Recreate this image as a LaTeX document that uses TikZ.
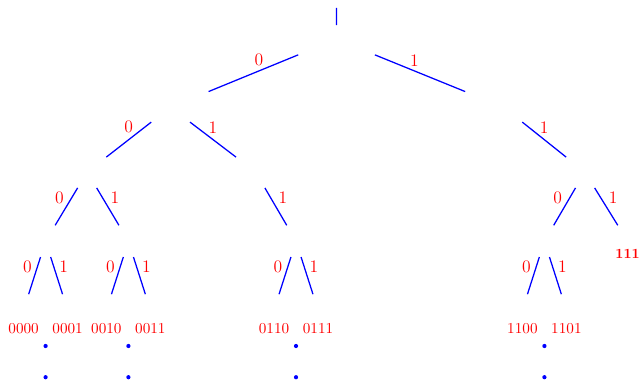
\documentclass[tikz,border=0pt]{standalone}
\usetikzlibrary{calc, positioning}

\begin{document}
\begin{tikzpicture}[
  branch/.style={draw=blue, line width=0.9pt},
  bit/.style={text=red, font=\fontsize{12.5}{14}\selectfont, inner sep=1.5pt},
  word/.style={text=red, font=\fontsize{10.8}{12}\selectfont},
  stub/.style={text=red, font=\fontsize{10}{12}\selectfont\bfseries},
  dot/.style={circle, fill=blue, inner sep=0pt, minimum size=3pt},
]
  \useasboundingbox (0,0) rectangle (15.975,-9.5);

  % ---- tree points, level by level ----
  \coordinate (top)  at (8.41,-0.20);
  \coordinate (r)    at (8.41,-0.98);
  \coordinate (n0)   at (4.26,-2.68);
  \coordinate (n1)   at (12.59,-2.68);
  \coordinate (n00)  at (2.18,-4.30);
  \coordinate (n01)  at (6.39,-4.30);
  \coordinate (n11)  at (14.62,-4.30);
  \coordinate (n000) at (1.14,-6.03);
  \coordinate (n001) at (3.21,-6.03);
  \coordinate (n011) at (7.40,-6.03);
  \coordinate (n110) at (13.61,-6.03);
  \coordinate (n111) at (15.69,-6.03);
  % leaves
  \coordinate (l0000) at (0.59,-7.75);
  \coordinate (l0001) at (1.69,-7.75);
  \coordinate (l0010) at (2.66,-7.75);
  \coordinate (l0011) at (3.76,-7.75);
  \coordinate (l0110) at (6.85,-7.75);
  \coordinate (l0111) at (7.95,-7.75);
  \coordinate (l1100) at (13.06,-7.75);
  \coordinate (l1101) at (14.16,-7.75);

  % ==== root stub ====
  \draw[branch] (top) -- ($(top)!0.548!(r)$);

  % ==== level 1 ====
  \draw[branch] ($(r)!.23!(n0)$) -- node[bit, above=3pt, xshift=4pt]  {0} ($(r)!.77!(n0)$);
  \draw[branch] ($(r)!.23!(n1)$) -- node[bit, above=3pt, xshift=-4pt] {1} ($(r)!.77!(n1)$);

  % ==== level 2 ====
  \draw[branch] ($(n0)!.23!(n00)$) -- node[bit, above=2.5pt] {0} ($(n0)!.77!(n00)$);
  \draw[branch] ($(n0)!.23!(n01)$) -- node[bit, above=2.5pt] {1} ($(n0)!.77!(n01)$);
  \draw[branch] ($(n1)!.23!(n11)$) -- node[bit, above=2.5pt] {1} ($(n1)!.77!(n11)$);

  % ==== level 3 ====
  \draw[branch] ($(n00)!.23!(n000)$) -- node[bit, above left]  {0} ($(n00)!.77!(n000)$);
  \draw[branch] ($(n00)!.23!(n001)$) -- node[bit, above right] {1} ($(n00)!.77!(n001)$);
  \draw[branch] ($(n01)!.23!(n011)$) -- node[bit, above right] {1} ($(n01)!.77!(n011)$);
  \draw[branch] ($(n11)!.23!(n110)$) -- node[bit, above left]  {0} ($(n11)!.77!(n110)$);
  \draw[branch] ($(n11)!.23!(n111)$) -- node[bit, above right] {1} ($(n11)!.77!(n111)$);

  % ==== level 4 ====
  \draw[branch] ($(n000)!.23!(l0000)$) -- node[bit, above left]  {0} ($(n000)!.77!(l0000)$);
  \draw[branch] ($(n000)!.23!(l0001)$) -- node[bit, above right] {1} ($(n000)!.77!(l0001)$);
  \draw[branch] ($(n001)!.23!(l0010)$) -- node[bit, above left]  {0} ($(n001)!.77!(l0010)$);
  \draw[branch] ($(n001)!.23!(l0011)$) -- node[bit, above right] {1} ($(n001)!.77!(l0011)$);
  \draw[branch] ($(n011)!.23!(l0110)$) -- node[bit, above left]  {0} ($(n011)!.77!(l0110)$);
  \draw[branch] ($(n011)!.23!(l0111)$) -- node[bit, above right] {1} ($(n011)!.77!(l0111)$);
  \draw[branch] ($(n110)!.23!(l1100)$) -- node[bit, above left]  {0} ($(n110)!.77!(l1100)$);
  \draw[branch] ($(n110)!.23!(l1101)$) -- node[bit, above right] {1} ($(n110)!.77!(l1101)$);

  % ==== words at the leaves ====
  \node[stub, below=2pt of n111]  (w111)  {111};
  \node[word, below=6pt of l0000] (w0000) {0000};
  \node[word, below=6pt of l0001] (w0001) {0001};
  \node[word, below=6pt of l0010] (w0010) {0010};
  \node[word, below=6pt of l0011] (w0011) {0011};
  \node[word, below=6pt of l0110] (w0110) {0110};
  \node[word, below=6pt of l0111] (w0111) {0111};
  \node[word, below=6pt of l1100] (w1100) {1100};
  \node[word, below=6pt of l1101] (w1101) {1101};

  % ==== continuation dots ====
  \node[dot] (d000a) at (n000 |- 0,-8.65) {};
  \node[dot] (d000b) at (n000 |- 0,-9.43) {};
  \node[dot] (d001a) at (n001 |- 0,-8.65) {};
  \node[dot] (d001b) at (n001 |- 0,-9.43) {};
  \node[dot] (d011a) at (n011 |- 0,-8.65) {};
  \node[dot] (d011b) at (n011 |- 0,-9.43) {};
  \node[dot] (d110a) at (n110 |- 0,-8.65) {};
  \node[dot] (d110b) at (n110 |- 0,-9.43) {};
\end{tikzpicture}
\end{document}
